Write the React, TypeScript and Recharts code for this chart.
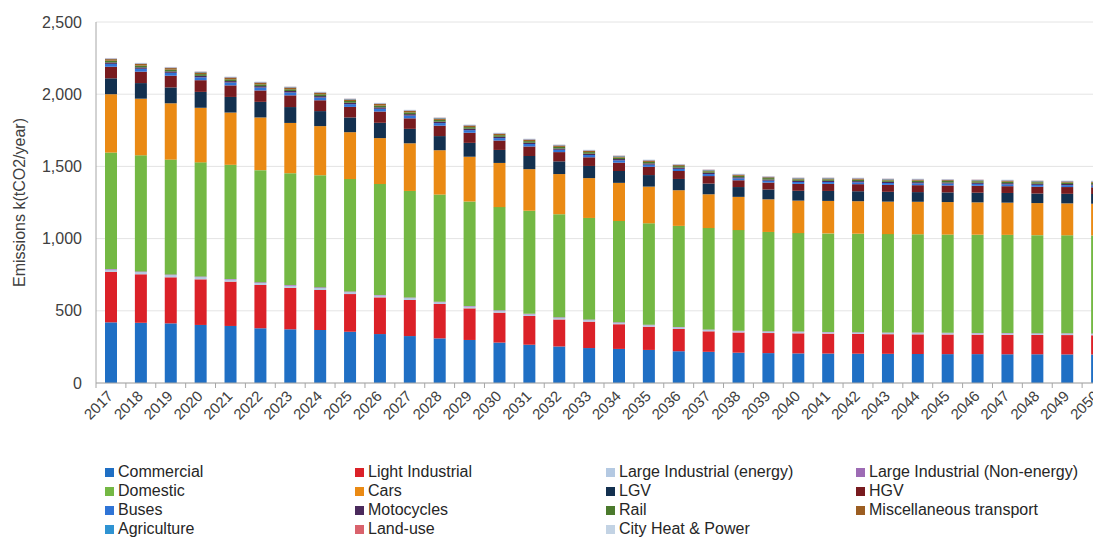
import React from 'react';
import { BarChart, Bar, XAxis, YAxis, CartesianGrid, Label } from 'recharts';

const years = [
  '2017', '2018', '2019', '2020', '2021', '2022', '2023', '2024', '2025', '2026',
  '2027', '2028', '2029', '2030', '2031', '2032', '2033', '2034', '2035', '2036',
  '2037', '2038', '2039', '2040', '2041', '2042', '2043', '2044', '2045', '2046',
  '2047', '2048', '2049', '2050',
];

const yTicks = [0, 500, 1000, 1500, 2000, 2500];

const commercial = [420, 417, 413, 402, 395, 379, 372, 367, 355, 339, 325, 309, 298, 280, 265, 253, 242, 236, 229, 220, 216, 210, 207, 205, 204, 203, 202, 201, 200, 200, 199, 199, 198, 198];
const lightIndustrial = [350, 336, 319, 316, 307, 300, 287, 277, 261, 254, 250, 238, 219, 207, 199, 187, 183, 171, 161, 154, 142, 140, 139, 139, 138, 137, 136, 136, 136, 135, 135, 134, 134, 133];
const largeIndEnergy = [15, 15, 15, 15, 14, 14, 14, 14, 13, 13, 13, 12, 12, 12, 11, 11, 11, 10, 10, 10, 10, 9, 9, 9, 9, 9, 9, 9, 9, 9, 9, 9, 9, 9];
const largeIndNonEnergy = [5, 5, 5, 5, 5, 5, 5, 5, 5, 4, 4, 4, 4, 4, 4, 4, 4, 4, 4, 3, 3, 3, 3, 3, 3, 3, 3, 3, 3, 3, 3, 3, 3, 3];
const domestic = [806, 804, 795, 790, 790, 776, 775, 776, 778, 768, 738, 742, 724, 715, 714, 714, 703, 701, 702, 701, 702, 697, 688, 682, 682, 682, 681, 681, 680, 680, 680, 679, 679, 679];
const cars = [404, 392, 390, 378, 362, 365, 348, 340, 325, 318, 330, 307, 310, 306, 288, 278, 276, 264, 254, 247, 234, 230, 226, 225, 225, 225, 225, 225, 225, 224, 223, 222, 221, 220];
const lgv = [110, 108, 110, 110, 108, 108, 110, 104, 102, 106, 100, 98, 96, 90, 91, 88, 84, 82, 80, 78, 74, 68, 68, 68, 69, 69, 68, 67, 67, 67, 67, 66, 66, 66];
const hgv = [80, 79, 81, 81, 80, 79, 81, 75, 73, 78, 73, 72, 70, 65, 66, 64, 60, 58, 57, 55, 52, 47, 48, 48, 49, 49, 48, 48, 48, 48, 47, 47, 47, 47];
const buses = [20, 20, 20, 20, 20, 20, 20, 19, 19, 19, 19, 18, 18, 17, 17, 16, 16, 16, 15, 15, 14, 13, 13, 13, 13, 13, 13, 13, 13, 13, 13, 13, 13, 13];
const motocycles = [10, 10, 10, 10, 10, 10, 10, 10, 10, 10, 10, 10, 10, 9, 9, 9, 9, 9, 9, 9, 9, 8, 8, 8, 8, 8, 8, 8, 8, 8, 8, 8, 8, 8];
const rail = [12, 12, 12, 12, 12, 12, 12, 12, 12, 12, 12, 12, 11, 11, 11, 11, 11, 10, 10, 10, 10, 10, 10, 10, 10, 10, 10, 10, 10, 10, 10, 10, 10, 10];
const miscTransport = [11, 11, 11, 12, 11, 11, 12, 10, 10, 11, 10, 10, 10, 9, 9, 9, 8, 8, 8, 7, 6, 6, 6, 6, 6, 6, 6, 6, 6, 6, 6, 6, 6, 6];
const agriculture = [3, 3, 3, 3, 3, 3, 3, 3, 3, 3, 3, 3, 3, 3, 3, 3, 3, 3, 3, 3, 3, 3, 3, 3, 3, 3, 3, 3, 3, 3, 3, 3, 3, 3];
const landUse = [2, 2, 2, 2, 2, 2, 2, 2, 2, 2, 2, 2, 2, 2, 2, 2, 2, 2, 2, 2, 2, 2, 2, 2, 2, 2, 2, 2, 2, 2, 2, 2, 2, 2];
const cityHeatPower = [3, 3, 3, 3, 3, 3, 3, 3, 3, 3, 3, 3, 3, 3, 3, 3, 3, 3, 3, 3, 3, 3, 3, 3, 3, 3, 3, 3, 3, 3, 3, 3, 3, 3];

const series = [
  { key: 'Commercial', values: commercial, color: '#1f6fc4' },
  { key: 'Light Industrial', values: lightIndustrial, color: '#db2128' },
  { key: 'Large Industrial (energy)', values: largeIndEnergy, color: '#b4c9e2' },
  { key: 'Large Industrial (Non-energy)', values: largeIndNonEnergy, color: '#9d6bb4' },
  { key: 'Domestic', values: domestic, color: '#74b844' },
  { key: 'Cars', values: cars, color: '#ea8a14' },
  { key: 'LGV', values: lgv, color: '#13304f' },
  { key: 'HGV', values: hgv, color: '#781b1f' },
  { key: 'Buses', values: buses, color: '#2f74d6' },
  { key: 'Motocycles', values: motocycles, color: '#4a2a5c' },
  { key: 'Rail', values: rail, color: '#4b7a2c' },
  { key: 'Miscellaneous transport', values: miscTransport, color: '#9c5e22' },
  { key: 'Agriculture', values: agriculture, color: '#2f93d2' },
  { key: 'Land-use', values: landUse, color: '#d9626c' },
  { key: 'City Heat & Power', values: cityHeatPower, color: '#c3d3e4' },
];

const data = years.map((year, i) => {
  const row: Record<string, string | number> = { year };
  series.forEach((s) => {
    row[s.key] = s.values[i];
  });
  return row;
});

const CHART_W = 1106;
const CHART_H = 531;
const MARGIN = { top: 14, right: 2, left: 8, bottom: 96 };
const Y_W = 80;
const PLOT_W = CHART_W - MARGIN.left - MARGIN.right - Y_W;
const BAND = PLOT_W / years.length;
const FONT = '"Liberation Sans", Arial, sans-serif';

function XTick(props: any) {
  const { x, y, payload } = props;
  return (
    <g transform={`translate(${x},${y})`}>
      <line x1={-BAND / 2} x2={-BAND / 2} y1={-8} y2={-3} stroke="#a6a6a6" />
      <text
        x={3}
        y={6}
        textAnchor="end"
        transform="rotate(-45 3 6)"
        fill="#404040"
        fontSize={15}
        fontFamily={FONT}
      >
        {payload.value}
      </text>
    </g>
  );
}

function YLabel(props: any) {
  const { viewBox } = props;
  const cx = viewBox.x + 3;
  const cy = viewBox.y + viewBox.height / 2;
  return (
    <text
      x={cx}
      y={cy}
      transform={`rotate(-90 ${cx} ${cy})`}
      textAnchor="middle"
      dominantBaseline="central"
      fill="#404040"
      fontSize={16}
      fontFamily={FONT}
    >
      Emissions k(tCO2/year)
    </text>
  );
}

const legendCols = [97, 347, 598, 848];
const legendRows = [464, 483, 502, 521];

export default function App() {
  return (
    <div style={{ position: 'relative', width: 1093, height: CHART_H, overflow: 'hidden', fontFamily: FONT, background: '#fff' }}>
      <BarChart width={CHART_W} height={CHART_H} data={data} margin={MARGIN} barSize={12}>
        <CartesianGrid vertical={false} stroke="#e4e4e4" />
        <XAxis
          dataKey="year"
          interval={0}
          height={60}
          tickLine={false}
          axisLine={{ stroke: '#a6a6a6' }}
          tick={<XTick />}
        />
        <YAxis
          width={Y_W}
          domain={[0, 2500]}
          ticks={yTicks}
          interval={0}
          tickLine={false}
          tickMargin={8}
          axisLine={{ stroke: '#a6a6a6' }}
          tick={{ fill: '#404040', fontSize: 16, fontFamily: FONT }}
          tickFormatter={(v: number) => v.toLocaleString('en-US')}
        >
          <Label content={<YLabel />} />
        </YAxis>
        {series.map((s) => (
          <Bar key={s.key} dataKey={s.key} stackId="a" fill={s.color} isAnimationActive={false} />
        ))}
      </BarChart>
      {series.map((s, i) => (
        <div
          key={s.key}
          style={{
            position: 'absolute',
            left: legendCols[i % 4],
            top: legendRows[Math.floor(i / 4)] - 10,
            height: 20,
            display: 'flex',
            alignItems: 'center',
            fontSize: 16,
            color: '#262626',
            whiteSpace: 'nowrap',
          }}
        >
          <span style={{ display: 'inline-block', width: 9, height: 9, background: s.color, marginRight: 4 }} />
          <span>{s.key}</span>
        </div>
      ))}
    </div>
  );
}
